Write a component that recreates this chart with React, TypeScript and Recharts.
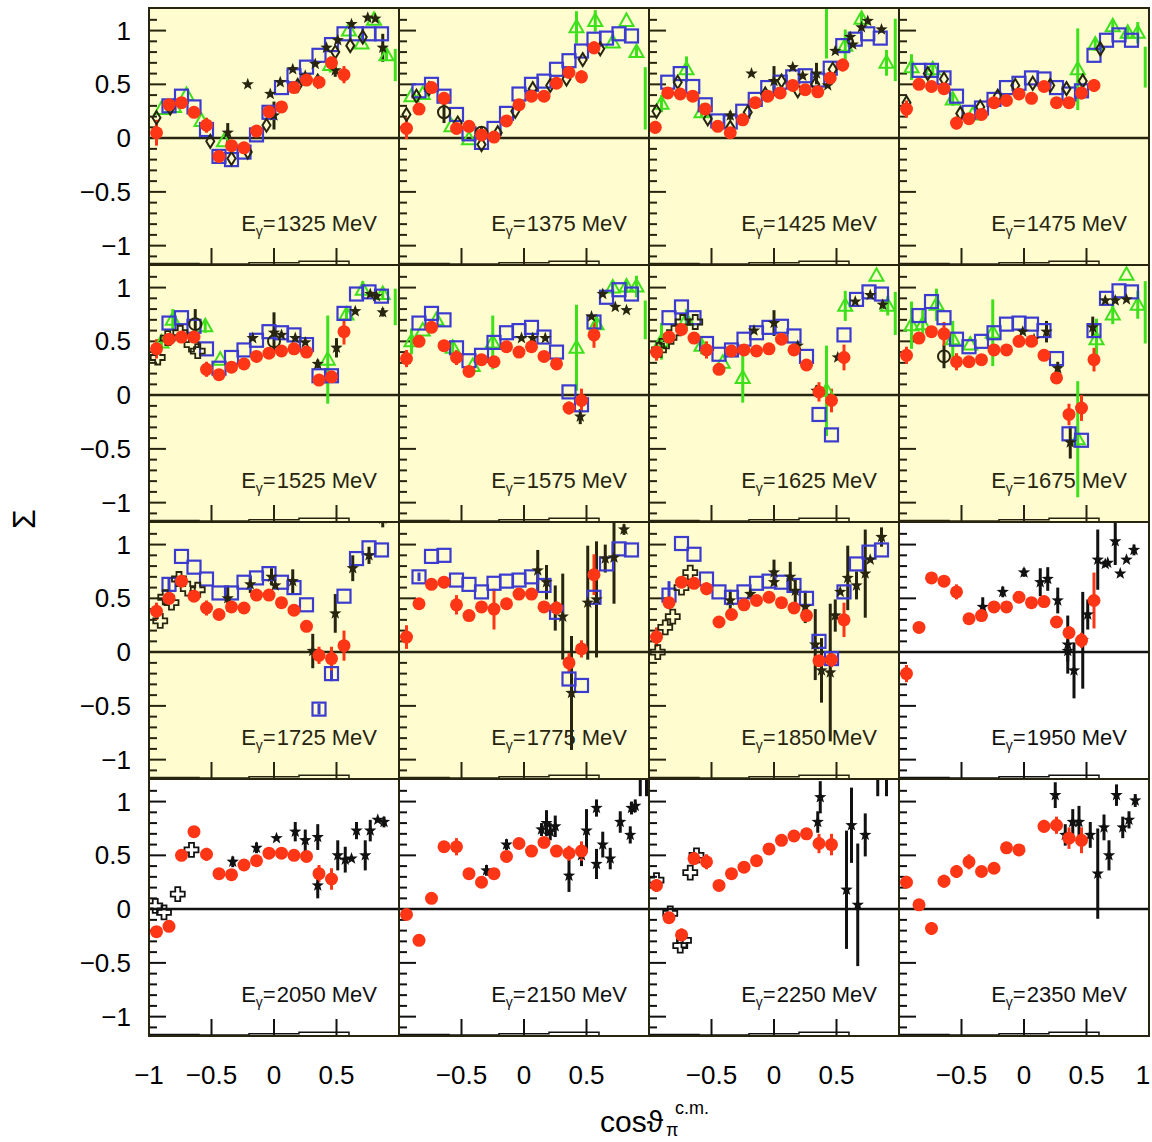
import React from 'react'
import { ComposedChart, Scatter, ErrorBar, XAxis, YAxis, ReferenceLine, Line } from 'recharts'

// Beam asymmetry Σ versus cos θ(π, c.m.), one panel per photon energy.
// Each point is [cos θ, Σ, error].

const red1325 = [[-0.94, 0.05, 0.12], [-0.84, 0.31, 0.03], [-0.74, 0.33, 0.03], [-0.64, 0.24, 0.05], [-0.54, 0.12, 0.07], [-0.44, -0.17, 0.03], [-0.34, -0.07, 0.03], [-0.24, -0.09, 0.03], [-0.14, 0.065, 0.03], [-0.04, 0.245, 0.03], [0.06, 0.29, 0.03], [0.16, 0.47, 0.03], [0.26, 0.54, 0.03], [0.36, 0.52, 0.04], [0.46, 0.7, 0.05], [0.56, 0.59, 0.08]]
const blue1325 = [[-0.84, 0.3], [-0.74, 0.39], [-0.64, 0.29], [-0.54, 0.08], [-0.44, -0.17], [-0.34, -0.2], [-0.24, -0.13], [-0.14, 0.03], [-0.04, 0.24], [0.06, 0.47], [0.16, 0.58], [0.26, 0.66], [0.36, 0.77], [0.46, 0.87], [0.56, 0.97], [0.66, 0.97], [0.76, 0.97], [0.86, 0.97]]
const green1325 = [[-0.9, 0.27], [-0.8, 0.29], [-0.7, 0.4], [-0.58, 0.16], [-0.4, -0.03], [0.45, 0.68, 0.07], [0.6, 1.0], [0.7, 0.88], [0.8, 1.1], [0.9, 0.77, 0.05]]
const greenBar1325 = [[0.97, 0.68, 0.15]]
const star1325 = [[-0.37, 0.05, 0.09], [-0.21, 0.5], [-0.03, 0.41], [0.0, 0.21, 0.13], [0.05, 0.52], [0.15, 0.64], [0.25, 0.58], [0.33, 0.69], [0.42, 0.84], [0.49, 0.63, 0.06], [0.51, 0.91], [0.62, 1.06], [0.75, 1.12], [0.81, 1.11], [0.87, 0.84, 0.13]]
const diamond1325 = [[-0.94, 0.19], [-0.83, 0.28], [-0.51, -0.03], [-0.34, -0.19], [-0.21, -0.13], [-0.06, 0.12], [0.19, 0.49], [0.35, 0.53], [0.49, 0.8], [0.61, 0.86], [0.71, 0.94]]

const red1375 = [[-0.94, 0.09, 0.1], [-0.84, 0.27, 0.03], [-0.74, 0.47, 0.03], [-0.64, 0.37, 0.03], [-0.54, 0.09, 0.05], [-0.44, 0.11, 0.03], [-0.34, 0.03, 0.03], [-0.24, 0.01, 0.03], [-0.14, 0.16, 0.03], [-0.04, 0.31, 0.03], [0.06, 0.39, 0.03], [0.16, 0.39, 0.03], [0.26, 0.51, 0.03], [0.36, 0.61, 0.04], [0.46, 0.57, 0.06], [0.56, 0.84, 0.06]]
const blue1375 = [[-0.84, 0.44], [-0.74, 0.5], [-0.64, 0.39], [-0.54, 0.22], [-0.44, 0.04], [-0.34, -0.04], [-0.24, 0.09], [-0.14, 0.23], [-0.04, 0.41], [0.06, 0.5], [0.16, 0.53], [0.26, 0.64], [0.36, 0.72], [0.46, 0.81], [0.56, 0.92], [0.66, 0.93], [0.76, 0.97], [0.86, 0.95]]
const green1375 = [[-0.9, 0.39], [-0.81, 0.41], [-0.58, 0.11], [-0.44, -0.01], [0.42, 1.03, 0.15], [0.57, 1.09, 0.1], [0.71, 0.89], [0.82, 1.09], [0.9, 0.8, 0.05]]
const greenBar1375 = [[0.97, 0.37, 0.29]]
const diamond1375 = [[-0.94, 0.22], [-0.86, 0.39], [-0.76, 0.46], [-0.53, 0.14], [-0.34, -0.06], [-0.21, 0.05], [-0.07, 0.25], [0.07, 0.46], [0.21, 0.49], [0.34, 0.55], [0.47, 0.73], [0.61, 0.83]]
const circle1375 = [[-0.64, 0.24, 0.1], [-0.34, 0.05, 0.06]]

const red1425 = [[-0.95, 0.1, 0.06], [-0.85, 0.42, 0.03], [-0.75, 0.41, 0.03], [-0.65, 0.39, 0.03], [-0.55, 0.27, 0.03], [-0.45, 0.11, 0.03], [-0.35, 0.05, 0.03], [-0.25, 0.17, 0.03], [-0.15, 0.33, 0.03], [-0.05, 0.39, 0.03], [0.05, 0.42, 0.03], [0.15, 0.49, 0.03], [0.25, 0.45, 0.03], [0.35, 0.43, 0.05], [0.45, 0.56, 0.04], [0.55, 0.68, 0.06]]
const blue1425 = [[-0.85, 0.52], [-0.75, 0.6], [-0.65, 0.48], [-0.55, 0.31], [-0.45, 0.16], [-0.35, 0.15], [-0.25, 0.25], [-0.15, 0.36], [-0.05, 0.47], [0.05, 0.52], [0.15, 0.57], [0.25, 0.58], [0.35, 0.54], [0.45, 0.65], [0.55, 0.86], [0.65, 0.92], [0.75, 0.97], [0.85, 0.93]]
const green1425 = [[-0.9, 0.32, 0.08], [-0.7, 0.64, 0.12], [-0.58, 0.24, 0.05], [0.57, 0.86, 0.15], [0.7, 1.11, 0.05], [0.9, 0.7, 0.12]]
const greenBar1425 = [[0.42, 0.97, 0.23], [0.97, 0.82, 0.29]]
const star1425 = [[-0.35, 0.21, 0.04], [-0.18, 0.6], [0.0, 0.53, 0.14], [0.15, 0.66], [0.23, 0.58], [0.34, 0.6, 0.1], [0.43, 0.49], [0.49, 0.81], [0.61, 0.94], [0.63, 0.87], [0.7, 1.03], [0.75, 1.09], [0.86, 1.01]]
const diamond1425 = [[-0.94, 0.25], [-0.77, 0.52], [-0.53, 0.18], [-0.35, 0.1], [-0.21, 0.24], [-0.07, 0.41], [0.06, 0.53], [0.19, 0.44], [0.33, 0.5], [0.47, 0.64]]

const red1475 = [[-0.94, 0.27, 0.08], [-0.84, 0.5, 0.03], [-0.74, 0.48, 0.03], [-0.64, 0.46, 0.03], [-0.54, 0.14, 0.06], [-0.44, 0.18, 0.03], [-0.34, 0.22, 0.03], [-0.24, 0.33, 0.03], [-0.14, 0.35, 0.03], [-0.04, 0.41, 0.03], [0.06, 0.37, 0.03], [0.16, 0.48, 0.03], [0.26, 0.33, 0.03], [0.36, 0.33, 0.03], [0.46, 0.42, 0.06], [0.56, 0.49, 0.06]]
const blue1475 = [[-0.84, 0.63], [-0.74, 0.63], [-0.64, 0.56], [-0.54, 0.39], [-0.44, 0.24], [-0.34, 0.28], [-0.24, 0.36], [-0.14, 0.47], [-0.04, 0.51], [0.06, 0.56], [0.16, 0.55], [0.26, 0.47], [0.36, 0.41], [0.46, 0.44], [0.56, 0.77], [0.66, 0.91], [0.76, 0.96], [0.86, 0.91]]
const green1475 = [[-0.9, 0.66, 0.12], [-0.73, 0.64, 0.06], [-0.57, 0.36, 0.06], [-0.41, 0.22], [0.43, 0.64, 0.38], [0.57, 0.87, 0.06], [0.71, 1.04, 0.06], [0.83, 0.98, 0.06], [0.91, 0.98, 0.1]]
const greenBar1475 = [[0.97, 0.66, 0.19]]
const diamond1475 = [[-0.94, 0.33], [-0.77, 0.6], [-0.64, 0.55], [-0.51, 0.23], [-0.35, 0.29], [-0.21, 0.39], [-0.07, 0.49], [0.07, 0.51], [0.21, 0.49], [0.34, 0.46], [0.47, 0.53], [0.61, 0.83]]

const red1525 = [[-0.94, 0.43, 0.09], [-0.84, 0.52, 0.03], [-0.74, 0.54, 0.03], [-0.64, 0.54, 0.03], [-0.54, 0.24, 0.07], [-0.44, 0.19, 0.03], [-0.34, 0.26, 0.03], [-0.24, 0.29, 0.03], [-0.14, 0.36, 0.03], [-0.04, 0.39, 0.03], [0.06, 0.41, 0.03], [0.16, 0.43, 0.03], [0.26, 0.4, 0.03], [0.36, 0.14, 0.04], [0.46, 0.17, 0.03], [0.56, 0.59, 0.12]]
const blue1525 = [[-0.84, 0.67], [-0.74, 0.72], [-0.64, 0.64], [-0.54, 0.43], [-0.44, 0.25], [-0.34, 0.35], [-0.24, 0.42], [-0.14, 0.51], [-0.04, 0.59], [0.06, 0.58], [0.16, 0.56], [0.26, 0.47], [0.36, 0.18], [0.46, 0.18], [0.56, 0.76], [0.66, 0.94], [0.76, 0.96], [0.86, 0.92]]
const green1525 = [[-0.9, 0.49, 0.05], [-0.81, 0.7, 0.1], [-0.55, 0.64, 0.06], [-0.43, 0.33], [0.43, 0.33, 0.41], [0.58, 0.75, 0.06], [0.71, 0.98, 0.08], [0.87, 0.94, 0.05]]
const greenBar1525 = [[0.97, 0.82, 0.17]]
const star1525 = [[-0.17, 0.53], [0.0, 0.58, 0.19], [0.06, 0.56], [0.17, 0.53], [0.25, 0.49], [0.35, 0.29, 0.04], [0.5, 0.44, 0.09], [0.65, 0.78], [0.77, 0.94], [0.82, 0.92], [0.87, 0.77, 0.04]]
const cross1525 = [[-0.93, 0.35], [-0.85, 0.53], [-0.75, 0.58], [-0.66, 0.47], [-0.61, 0.41]]
const circle1525 = [[-0.63, 0.66, 0.14], [0.0, 0.5]]

const red1575 = [[-0.94, 0.34, 0.08], [-0.84, 0.5, 0.03], [-0.74, 0.63, 0.03], [-0.64, 0.46, 0.03], [-0.54, 0.35, 0.07], [-0.44, 0.22, 0.03], [-0.34, 0.33, 0.03], [-0.24, 0.31, 0.03], [-0.14, 0.45, 0.03], [-0.04, 0.4, 0.03], [0.06, 0.45, 0.03], [0.16, 0.36, 0.03], [0.26, 0.29, 0.03], [0.36, -0.12, 0.06], [0.46, -0.05, 0.11], [0.56, 0.56, 0.12]]
const blue1575 = [[-0.84, 0.67], [-0.74, 0.76], [-0.64, 0.7], [-0.54, 0.44], [-0.44, 0.32], [-0.34, 0.37], [-0.24, 0.49], [-0.14, 0.58], [-0.04, 0.6], [0.06, 0.63], [0.16, 0.54], [0.26, 0.4], [0.36, 0.03], [0.46, -0.09], [0.56, 0.68], [0.66, 0.91], [0.76, 0.98], [0.86, 0.94]]
const green1575 = [[-0.9, 0.5, 0.12], [-0.81, 0.6], [-0.7, 0.7], [-0.57, 0.44, 0.07], [-0.41, 0.27], [-0.25, 0.49, 0.25], [0.42, 0.44, 0.4], [0.58, 0.66, 0.08], [0.71, 1.0, 0.06], [0.82, 1.01, 0.06], [0.9, 1.01, 0.1]]
const greenBar1575 = [[0.97, 0.7, 0.18]]
const star1575 = [[-0.02, 0.53], [0.07, 0.53], [0.17, 0.53], [0.45, -0.2, 0.07], [0.54, 0.73], [0.63, 0.94], [0.73, 0.82], [0.82, 0.79]]

const red1625 = [[-0.94, 0.4, 0.08], [-0.84, 0.54, 0.03], [-0.74, 0.61, 0.03], [-0.64, 0.53, 0.03], [-0.54, 0.42, 0.08], [-0.44, 0.24, 0.03], [-0.34, 0.41, 0.03], [-0.24, 0.42, 0.03], [-0.14, 0.41, 0.03], [-0.04, 0.43, 0.03], [0.06, 0.52, 0.03], [0.16, 0.42, 0.03], [0.26, 0.28, 0.03], [0.36, 0.03, 0.09], [0.46, -0.05, 0.11], [0.56, 0.35, 0.12]]
const blue1625 = [[-0.84, 0.72], [-0.74, 0.82], [-0.64, 0.72], [-0.54, 0.48], [-0.44, 0.38], [-0.34, 0.42], [-0.24, 0.52], [-0.14, 0.58], [-0.04, 0.63], [0.06, 0.64], [0.16, 0.55], [0.26, 0.36], [0.36, -0.18], [0.46, -0.37], [0.56, 0.56], [0.66, 0.89], [0.76, 0.96], [0.86, 0.94]]
const green1625 = [[-0.9, 0.5, 0.17], [-0.7, 0.7, 0.1], [-0.58, 0.46, 0.08], [-0.41, 0.3], [-0.25, 0.16, 0.23], [0.42, 0.04, 0.42], [0.57, 0.83, 0.14], [0.82, 1.11], [0.91, 0.83, 0.09]]
const greenBar1625 = [[0.97, 0.76, 0.2]]
const star1625 = [[-0.33, 0.41], [-0.16, 0.6], [0.0, 0.67, 0.12], [0.19, 0.46], [0.34, 0.04, 0.05], [0.51, 0.35], [0.65, 0.87], [0.77, 0.93], [0.87, 0.84, 0.04]]
const cross1625 = [[-0.92, 0.42], [-0.86, 0.5], [-0.8, 0.58], [-0.73, 0.68], [-0.63, 0.68]]

const red1675 = [[-0.94, 0.37, 0.08], [-0.84, 0.53, 0.03], [-0.74, 0.59, 0.03], [-0.64, 0.57, 0.11], [-0.54, 0.31, 0.08], [-0.44, 0.31, 0.03], [-0.34, 0.33, 0.03], [-0.24, 0.42, 0.03], [-0.14, 0.42, 0.03], [-0.04, 0.5, 0.03], [0.06, 0.5, 0.03], [0.16, 0.37, 0.03], [0.26, 0.16, 0.04], [0.36, -0.18, 0.1], [0.46, -0.12, 0.12], [0.56, 0.33, 0.11]]
const blue1675 = [[-0.84, 0.74], [-0.74, 0.87], [-0.64, 0.72], [-0.54, 0.52], [-0.44, 0.45], [-0.34, 0.5], [-0.24, 0.58], [-0.14, 0.66], [-0.04, 0.67], [0.06, 0.66], [0.16, 0.6], [0.26, 0.34], [0.36, -0.36], [0.46, -0.42], [0.56, 0.6], [0.66, 0.9], [0.76, 0.97], [0.86, 0.96]]
const green1675 = [[-0.9, 0.65, 0.22], [-0.81, 0.66, 0.15], [-0.7, 0.84, 0.15], [-0.57, 0.52, 0.17], [-0.43, 0.47], [-0.25, 0.58, 0.31], [0.43, -0.41, 0.54], [0.58, 0.52, 0.19], [0.71, 0.75, 0.09], [0.82, 1.12], [0.91, 0.84, 0.13]]
const greenBar1675 = [[0.97, 0.77, 0.29]]
const star1675 = [[-0.01, 0.59], [0.08, 0.52], [0.18, 0.59, 0.1], [0.27, 0.25, 0.06], [0.37, -0.44, 0.15], [0.55, 0.63, 0.1], [0.65, 0.88], [0.73, 0.88], [0.82, 0.89]]
const circle1675 = [[-0.64, 0.36, 0.11]]

const red1725 = [[-0.94, 0.38, 0.08], [-0.84, 0.5, 0.03], [-0.74, 0.66, 0.03], [-0.64, 0.52, 0.03], [-0.54, 0.41, 0.07], [-0.44, 0.35, 0.03], [-0.34, 0.42, 0.03], [-0.24, 0.41, 0.03], [-0.14, 0.53, 0.03], [-0.04, 0.53, 0.03], [0.06, 0.46, 0.03], [0.16, 0.39, 0.03], [0.26, 0.24, 0.05], [0.36, -0.03, 0.08], [0.46, -0.06, 0.11], [0.56, 0.06, 0.14]]
const blue1725 = [[-0.84, 0.63, 0.06], [-0.74, 0.89], [-0.64, 0.79], [-0.54, 0.68], [-0.44, 0.55], [-0.34, 0.55], [-0.24, 0.65], [-0.14, 0.69], [-0.04, 0.73], [0.06, 0.65], [0.16, 0.6], [0.26, 0.44], [0.36, -0.53, 0.05], [0.46, -0.2, 0.07], [0.56, 0.52], [0.66, 0.87], [0.76, 0.97], [0.86, 0.95]]
const star1725 = [[-0.37, 0.5, 0.12], [-0.19, 0.63, 0.08], [-0.02, 0.7, 0.08], [0.01, 0.62], [0.15, 0.66, 0.11], [0.31, 0.01, 0.16], [0.49, 0.36, 0.18], [0.63, 0.78, 0.12], [0.76, 0.9, 0.08], [0.87, 1.24, 0.08]]
const cross1725 = [[-0.91, 0.29], [-0.87, 0.51], [-0.82, 0.46], [-0.76, 0.68], [-0.69, 0.59], [-0.61, 0.58]]

const red1775 = [[-0.94, 0.14, 0.11], [-0.84, 0.45, 0.03], [-0.74, 0.63, 0.03], [-0.64, 0.65, 0.03], [-0.54, 0.44, 0.09], [-0.44, 0.34, 0.03], [-0.34, 0.42, 0.03], [-0.24, 0.4, 0.19], [-0.14, 0.45, 0.03], [-0.04, 0.54, 0.03], [0.06, 0.54, 0.03], [0.16, 0.42, 0.03], [0.26, 0.41, 0.06], [0.36, -0.1, 0.09], [0.46, 0.03, 0.08], [0.56, 0.72, 0.19]]
const blue1775 = [[-0.84, 0.7, 0.04], [-0.74, 0.89], [-0.64, 0.9], [-0.54, 0.67], [-0.44, 0.63], [-0.34, 0.56], [-0.24, 0.64], [-0.14, 0.66], [-0.04, 0.67], [0.06, 0.7], [0.16, 0.62], [0.26, 0.37], [0.36, -0.25], [0.46, -0.31], [0.56, 0.51], [0.66, 0.82], [0.76, 0.96], [0.86, 0.95]]
const star1775 = [[0.11, 0.76, 0.19], [0.18, 0.65, 0.16], [0.25, 0.41, 0.21], [0.31, 0.33, 0.4], [0.38, -0.38, 0.53], [0.51, 0.46, 0.53], [0.58, 0.49, 0.54], [0.65, 0.87, 0.13], [0.72, 0.88, 0.43], [0.8, 1.14, 0.05]]

const red1850 = [[-0.94, 0.14, 0.09], [-0.84, 0.46, 0.03], [-0.74, 0.65, 0.03], [-0.64, 0.64, 0.03], [-0.54, 0.59, 0.06], [-0.44, 0.28, 0.03], [-0.34, 0.35, 0.03], [-0.24, 0.44, 0.03], [-0.14, 0.48, 0.03], [-0.04, 0.51, 0.03], [0.06, 0.46, 0.03], [0.16, 0.41, 0.03], [0.26, 0.34, 0.03], [0.36, -0.08, 0.04], [0.46, -0.07, 0.07], [0.56, 0.3, 0.16]]
const blue1850 = [[-0.84, 0.53, 0.13], [-0.74, 1.01], [-0.64, 0.91], [-0.54, 0.68], [-0.44, 0.56], [-0.34, 0.51], [-0.24, 0.56], [-0.14, 0.64], [-0.04, 0.66], [0.06, 0.65], [0.16, 0.62], [0.26, 0.5], [0.36, 0.1], [0.46, -0.06], [0.56, 0.56], [0.66, 0.82], [0.76, 0.93], [0.86, 0.95]]
const star1850 = [[-0.35, 0.48, 0.1], [-0.19, 0.54], [0.0, 0.74, 0.12], [0.0, 0.65], [0.13, 0.7, 0.14], [0.17, 0.57, 0.11], [0.25, 0.42, 0.15], [0.33, 0.07, 0.33], [0.38, -0.17, 0.3], [0.45, -0.19, 0.64], [0.49, 0.34, 0.15], [0.53, 0.56], [0.59, 0.69, 0.3], [0.66, 0.62, 0.13], [0.73, 0.73, 0.41], [0.77, 0.86], [0.86, 1.07, 0.09]]
const cross1850 = [[-0.93, 0.0], [-0.87, 0.23], [-0.81, 0.33], [-0.74, 0.6], [-0.67, 0.74]]

const red1950 = [[-0.94, -0.2, 0.08], [-0.84, 0.23, 0.03], [-0.74, 0.69, 0.03], [-0.64, 0.66, 0.03], [-0.54, 0.56, 0.07], [-0.44, 0.31, 0.03], [-0.34, 0.34, 0.03], [-0.24, 0.42, 0.03], [-0.14, 0.42, 0.03], [-0.04, 0.51, 0.03], [0.06, 0.46, 0.03], [0.16, 0.47, 0.03], [0.26, 0.28, 0.03], [0.36, 0.18, 0.06], [0.46, 0.11, 0.07], [0.56, 0.48, 0.26]]
const star1950 = [[-0.33, 0.42, 0.09], [-0.17, 0.56, 0.05], [0.0, 0.74, 0.04], [0.13, 0.65, 0.13], [0.19, 0.68, 0.11], [0.27, 0.48, 0.12], [0.35, 0.07, 0.27], [0.35, 0.01, 0.1], [0.4, -0.17, 0.26], [0.47, 0.11, 0.45], [0.51, 0.35, 0.14], [0.59, 0.86, 0.28], [0.65, 0.82], [0.67, 0.83], [0.73, 1.03, 0.22], [0.77, 0.73], [0.82, 0.86], [0.88, 0.95, 0.05]]

const red2050 = [[-0.94, -0.21, 0.05], [-0.84, -0.16, 0.04], [-0.74, 0.5, 0.04], [-0.64, 0.72, 0.05], [-0.54, 0.51, 0.06], [-0.44, 0.33, 0.03], [-0.34, 0.32, 0.03], [-0.24, 0.41, 0.03], [-0.14, 0.45, 0.03], [-0.04, 0.52, 0.03], [0.06, 0.52, 0.03], [0.16, 0.5, 0.03], [0.26, 0.49, 0.05], [0.36, 0.33, 0.08], [0.46, 0.28, 0.1]]
const star2050 = [[-0.33, 0.44, 0.05], [-0.14, 0.57, 0.05], [0.02, 0.66], [0.17, 0.72, 0.09], [0.25, 0.64, 0.1], [0.35, 0.67, 0.12], [0.35, 0.22, 0.12], [0.51, 0.5, 0.14], [0.57, 0.46, 0.12], [0.62, 0.47], [0.66, 0.73, 0.08], [0.73, 0.5, 0.14], [0.77, 0.73, 0.1], [0.83, 0.83], [0.88, 0.81, 0.05]]
const cross2050 = [[-0.95, 0.03], [-0.88, -0.03], [-0.77, 0.14], [-0.66, 0.55]]

const red2150 = [[-0.94, -0.05, 0.05], [-0.84, -0.29, 0.04], [-0.74, 0.1, 0.04], [-0.64, 0.58, 0.05], [-0.54, 0.58, 0.08], [-0.44, 0.33, 0.03], [-0.34, 0.25, 0.03], [-0.24, 0.33, 0.03], [-0.14, 0.49, 0.03], [-0.04, 0.61, 0.03], [0.06, 0.54, 0.03], [0.16, 0.62, 0.03], [0.26, 0.54, 0.05], [0.36, 0.52, 0.07], [0.46, 0.54, 0.09]]
const star2150 = [[-0.3, 0.36, 0.05], [-0.14, 0.6, 0.05], [0.14, 0.74, 0.06], [0.18, 0.8, 0.12], [0.21, 0.72, 0.08], [0.25, 0.77, 0.1], [0.36, 0.31, 0.15], [0.46, 0.5, 0.1], [0.5, 0.73, 0.2], [0.58, 0.94, 0.08], [0.58, 0.42, 0.14], [0.63, 0.6, 0.12], [0.69, 0.47, 0.1], [0.77, 0.81, 0.1], [0.85, 0.69, 0.08], [0.86, 0.94, 0.06], [0.89, 0.96, 0.06], [0.93, 1.35, 0.3], [0.98, 1.35, 0.3]]

const red2250 = [[-0.94, 0.22, 0.06], [-0.84, -0.08, 0.05], [-0.74, -0.24, 0.06], [-0.64, 0.47, 0.06], [-0.54, 0.44, 0.07], [-0.44, 0.22, 0.03], [-0.34, 0.33, 0.03], [-0.24, 0.39, 0.03], [-0.14, 0.45, 0.03], [-0.04, 0.56, 0.03], [0.06, 0.64, 0.03], [0.16, 0.68, 0.03], [0.26, 0.7, 0.05], [0.36, 0.61, 0.09], [0.46, 0.6, 0.1]]
const star2250 = [[0.35, 0.81, 0.1], [0.37, 1.04, 0.15], [0.58, 0.18, 0.55], [0.62, 0.78, 0.35], [0.67, 0.04, 0.57], [0.73, 0.69, 0.2], [0.83, 1.35, 0.3], [0.9, 1.35, 0.3]]
const cross2250 = [[-0.94, 0.27], [-0.83, -0.04], [-0.75, -0.34], [-0.72, -0.29], [-0.67, 0.34], [-0.62, 0.5]]

const red2350 = [[-0.94, 0.25, 0.05], [-0.84, 0.04, 0.03], [-0.74, -0.18, 0.06], [-0.64, 0.26, 0.06], [-0.54, 0.35, 0.06], [-0.44, 0.44, 0.07], [-0.34, 0.35, 0.03], [-0.24, 0.38, 0.03], [-0.14, 0.57, 0.03], [-0.04, 0.55, 0.03], [0.16, 0.77, 0.06], [0.26, 0.78, 0.08], [0.36, 0.66, 0.1], [0.46, 0.64, 0.12]]
const star2350 = [[0.25, 1.06, 0.12], [0.33, 0.69, 0.1], [0.39, 0.81, 0.12], [0.44, 0.81, 0.15], [0.53, 0.69, 0.12], [0.59, 0.33, 0.42], [0.64, 0.76, 0.12], [0.68, 0.5, 0.14], [0.74, 1.06, 0.1], [0.79, 0.76, 0.1], [0.84, 0.83, 0.08], [0.89, 1.01, 0.06]]

// bottom-of-frame systematic error steps
const sysSteps = [[-1, -1.165], [-0.6, -1.17], [-0.2, -1.158], [0.2, -1.145], [0.6, -1.18], [1, -1.18]]

const yTickLabels = [1, 0.5, 0, -0.5, -1]
const xTickLabelsFirst = [-1, -0.5, 0, 0.5]
const xTickLabels = [-0.5, 0, 0.5]
const yMajorTicks = [-1, -0.5, 0.5, 1]
const yMinorTicks = [-1.1, -0.9, -0.8, -0.7, -0.6, -0.4, -0.3, -0.2, -0.1, 0.1, 0.2, 0.3, 0.4, 0.6, 0.7, 0.8, 0.9, 1.1]
const xMajorTicks = [-0.5, 0, 0.5]

type Series = {
  red?: number[][]; blue?: number[][]; green?: number[][]; greenBar?: number[][]
  star?: number[][]; diamond?: number[][]; cross?: number[][]; circle?: number[][]
}
type PanelDef = Series & { energy: number; white?: boolean }

const panels: PanelDef[] = [
  { energy: 1325, red: red1325, blue: blue1325, green: green1325, greenBar: greenBar1325, star: star1325, diamond: diamond1325 },
  { energy: 1375, red: red1375, blue: blue1375, green: green1375, greenBar: greenBar1375, diamond: diamond1375, circle: circle1375 },
  { energy: 1425, red: red1425, blue: blue1425, green: green1425, greenBar: greenBar1425, star: star1425, diamond: diamond1425 },
  { energy: 1475, red: red1475, blue: blue1475, green: green1475, greenBar: greenBar1475, diamond: diamond1475 },
  { energy: 1525, red: red1525, blue: blue1525, green: green1525, greenBar: greenBar1525, star: star1525, cross: cross1525, circle: circle1525 },
  { energy: 1575, red: red1575, blue: blue1575, green: green1575, greenBar: greenBar1575, star: star1575 },
  { energy: 1625, red: red1625, blue: blue1625, green: green1625, greenBar: greenBar1625, star: star1625, cross: cross1625 },
  { energy: 1675, red: red1675, blue: blue1675, green: green1675, greenBar: greenBar1675, star: star1675, circle: circle1675 },
  { energy: 1725, red: red1725, blue: blue1725, star: star1725, cross: cross1725 },
  { energy: 1775, red: red1775, blue: blue1775, star: star1775 },
  { energy: 1850, red: red1850, blue: blue1850, star: star1850, cross: cross1850 },
  { energy: 1950, red: red1950, star: star1950, white: true },
  { energy: 2050, red: red2050, star: star2050, cross: cross2050, white: true },
  { energy: 2150, red: red2150, star: star2150, white: true },
  { energy: 2250, red: red2250, star: star2250, cross: cross2250, white: true },
  { energy: 2350, red: red2350, star: star2350, white: true },
]

const W = 250
const H = 257
const X0 = 149
const Y0 = 8
const Y_DOMAIN: [number, number] = [-1.18, 1.21]
const YELLOW = '#fffdcf'
const INK = '#27250f'
const RED = '#ff3616'
const BLUE = '#3b3bd0'
const GREEN = '#3ee01c'
const FONT = '"Liberation Sans", Arial, Helvetica, sans-serif'

const toPts = (a: number[][]) => a.map(([x, y, e = 0]) => ({ x, y, e }))

const starPath = (cx: number, cy: number, R: number, r: number) => {
  let d = ''
  for (let i = 0; i < 10; i++) {
    const a = -Math.PI / 2 + (i * Math.PI) / 5
    const rad = i % 2 === 0 ? R : r
    d += (i ? 'L' : 'M') + (cx + rad * Math.cos(a)).toFixed(2) + ',' + (cy + rad * Math.sin(a)).toFixed(2)
  }
  return d + 'Z'
}

const crossPath = (cx: number, cy: number, s: number, t: number) =>
  `M${cx - t},${cy - s}H${cx + t}V${cy - t}H${cx + s}V${cy + t}H${cx + t}V${cy + s}H${cx - t}V${cy + t}H${cx - s}V${cy - t}H${cx - t}Z`

const makeShapes = (ink: string) => ({
  red: (p: any) => <circle cx={p.cx} cy={p.cy} r={6.5} fill={RED} />,
  blue: (p: any) => <rect x={p.cx - 6.5} y={p.cy - 6.5} width={13} height={13} fill="none" stroke={BLUE} strokeWidth={2.2} />,
  green: (p: any) => (
    <path d={`M${p.cx},${p.cy - 7.5}L${p.cx + 7},${p.cy + 5}L${p.cx - 7},${p.cy + 5}Z`} fill="none" stroke={GREEN} strokeWidth={2} />
  ),
  greenBar: () => <g />,
  star: (p: any) => <path d={starPath(p.cx, p.cy, 6.5, 2.7)} fill={ink} />,
  diamond: (p: any) => (
    <path d={`M${p.cx},${p.cy - 6.5}L${p.cx + 4},${p.cy}L${p.cx},${p.cy + 6.5}L${p.cx - 4},${p.cy}Z`} fill="none" stroke={ink} strokeWidth={2} />
  ),
  cross: (p: any) => <path d={crossPath(p.cx, p.cy, 7, 2.5)} fill="none" stroke={ink} strokeWidth={1.8} />,
  circle: (p: any) => <circle cx={p.cx} cy={p.cy} r={6} fill="none" stroke={ink} strokeWidth={2} />,
})

// drawing order: later series sit on top
const ORDER: (keyof Series)[] = ['green', 'greenBar', 'blue', 'diamond', 'cross', 'circle', 'star', 'red']
const barColor = (k: keyof Series, ink: string) => (k === 'red' ? RED : k === 'green' || k === 'greenBar' ? GREEN : k === 'blue' ? BLUE : ink)

const pxX = 2 / W
const pxY = (Y_DOMAIN[1] - Y_DOMAIN[0]) / H

function Panel({ def, col, row }: { def: PanelDef; col: number; row: number }) {
  const ink = def.white ? '#111111' : INK
  const shapes = makeShapes(ink)
  return (
    <div style={{ position: 'absolute', left: X0 + col * W, top: Y0 + row * H, width: W, height: H, background: def.white ? '#ffffff' : YELLOW }}>
      <ComposedChart width={W} height={H} margin={{ top: 0, right: 0, bottom: 0, left: 0 }}>
        <XAxis type="number" dataKey="x" domain={[-1, 1]} hide allowDataOverflow />
        <YAxis type="number" dataKey="y" domain={Y_DOMAIN} hide allowDataOverflow />
        {yMinorTicks.map((v) => (
          <ReferenceLine key={'n' + v} ifOverflow="visible" segment={[{ x: -1, y: v }, { x: -1 + 8 * pxX, y: v }]} stroke={ink} strokeWidth={2} />
        ))}
        {yMajorTicks.map((v) => (
          <ReferenceLine key={'j' + v} ifOverflow="visible" segment={[{ x: -1, y: v }, { x: -1 + 17 * pxX, y: v }]} stroke={ink} strokeWidth={2} />
        ))}
        {xMajorTicks.map((v) => (
          <ReferenceLine key={'x' + v} ifOverflow="visible" segment={[{ x: v, y: Y_DOMAIN[0] }, { x: v, y: Y_DOMAIN[0] + 17 * pxY }]} stroke={ink} strokeWidth={2} />
        ))}
        <ReferenceLine y={0} stroke={ink} strokeWidth={2.5} />
        <Line data={sysSteps.map(([x, y]) => ({ x, y }))} dataKey="y" type="stepAfter" dot={false} stroke={ink} strokeWidth={1.5} isAnimationActive={false} />
        {ORDER.filter((k) => def[k]).map((k) => (
          <Scatter key={k} data={toPts(def[k] as number[][])} dataKey="y" shape={shapes[k]} isAnimationActive={false}>
            <ErrorBar dataKey="e" direction="y" width={0} stroke={barColor(k, ink)} strokeWidth={3} isAnimationActive={false} />
          </Scatter>
        ))}
      </ComposedChart>
      <div style={{ position: 'absolute', right: 22, top: 205, fontSize: 22, lineHeight: '22px', fontFamily: FONT, color: ink, whiteSpace: 'nowrap' }}>
        E<sub style={{ fontSize: 14 }}>γ</sub>=<span style={{ marginLeft: 1 }}>{def.energy} MeV</span>
      </div>
    </div>
  )
}

const fmt = (v: number) => (v < 0 ? '−' + String(-v) : String(v))
const yPix = (v: number, row: number) => Y0 + row * H + ((Y_DOMAIN[1] - v) / (Y_DOMAIN[1] - Y_DOMAIN[0])) * H
const xPix = (v: number, col: number) => X0 + col * W + ((v + 1) / 2) * W

export default function App() {
  const labelStyle: React.CSSProperties = { position: 'absolute', fontFamily: FONT, fontSize: 26, lineHeight: '26px', color: '#000', whiteSpace: 'nowrap' }
  return (
    <div style={{ position: 'absolute', left: 0, top: 0, width: 1152, height: 1142, background: '#ffffff', overflow: 'hidden' }}>
      {panels.map((def, i) => (
        <Panel key={def.energy} def={def} col={i % 4} row={Math.floor(i / 4)} />
      ))}
      {/* frame grid */}
      {[0, 1, 2, 3, 4].map((c) => (
        <div key={'v' + c} style={{ position: 'absolute', left: X0 + c * W - 1, top: Y0 - 1, width: 2, height: 4 * H + 2, background: INK }} />
      ))}
      {[0, 1, 2, 3, 4].map((r) => (
        <div key={'h' + r} style={{ position: 'absolute', left: X0 - 1, top: Y0 + r * H - 1, width: 4 * W + 2, height: 2, background: INK }} />
      ))}
      {[0, 1, 2, 3].map((row) =>
        yTickLabels.map((v) => (
          <div key={'yl' + row + v} style={{ ...labelStyle, right: 1152 - 131, top: yPix(v, row) - 13, textAlign: 'right' }}>
            {fmt(v)}
          </div>
        ))
      )}
      {[0, 1, 2, 3].map((col) =>
        (col === 0 ? xTickLabelsFirst : col === 3 ? [...xTickLabels, 1] : xTickLabels).map((v) => (
          <div
            key={'xl' + col + v}
            style={{ ...labelStyle, left: Math.min(xPix(v, col), 1143), top: 1062, transform: 'translateX(-50%)' }}
          >
            {fmt(v)}
          </div>
        ))
      )}
      <div style={{ position: 'absolute', left: 14, top: 503, fontFamily: FONT, fontSize: 32, lineHeight: '32px', transform: 'rotate(-90deg)' }}>Σ</div>
      <div style={{ position: 'absolute', left: 600, top: 1102, fontFamily: FONT, fontSize: 30, lineHeight: '30px', whiteSpace: 'nowrap' }}>
        cosϑ
        <span style={{ display: 'inline-block', position: 'relative', width: 60, height: 30 }}>
          <span style={{ position: 'absolute', left: 3, top: 13, fontSize: 18 }}>π</span>
          <span style={{ position: 'absolute', left: 12, top: -9, fontSize: 18 }}>c.m.</span>
        </span>
      </div>
    </div>
  )
}
